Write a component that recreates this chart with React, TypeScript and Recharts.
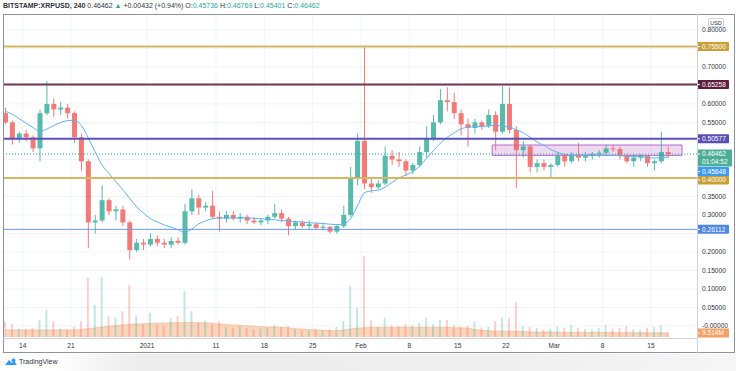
import React from 'react';
import {
  ComposedChart,
  Bar,
  Line,
  Area,
  XAxis,
  YAxis,
  CartesianGrid,
  ReferenceLine,
  ReferenceArea,
  Cell,
} from 'recharts';

// one candle per day, day number counted from 1 Dec 2020 (Dec 11 .. Mar 17)
const days = [
  10, 11, 12, 13, 14, 15, 16, 17, 18, 19, 20, 21, 22, 23, 24, 25, 26, 27, 28, 29,
  30, 31, 32, 33, 34, 35, 36, 37, 38, 39, 40, 41, 42, 43, 44, 45, 46, 47, 48, 49,
  50, 51, 52, 53, 54, 55, 56, 57, 58, 59, 60, 61, 62, 63, 64, 65, 66, 67, 68, 69,
  70, 71, 72, 73, 74, 75, 76, 77, 78, 79, 80, 81, 82, 83, 84, 85, 86, 87, 88, 89,
  90, 91, 92, 93, 94, 95, 96, 97, 98, 99, 100, 101, 102, 103, 104, 105, 106,
];

const opens = [
  0.575, 0.55, 0.505, 0.52, 0.51, 0.48, 0.575, 0.6, 0.585, 0.59,
  0.575, 0.51, 0.445, 0.28, 0.285, 0.34, 0.31, 0.315, 0.28, 0.205,
  0.225, 0.22, 0.235, 0.225, 0.22, 0.23, 0.225, 0.31, 0.345, 0.32,
  0.325, 0.295, 0.29, 0.3, 0.29, 0.295, 0.285, 0.28, 0.285, 0.295,
  0.305, 0.29, 0.27, 0.28, 0.27, 0.275, 0.265, 0.268, 0.255, 0.27,
  0.3, 0.4, 0.5, 0.385, 0.375, 0.385, 0.46, 0.45, 0.445, 0.42,
  0.435, 0.47, 0.505, 0.55, 0.61, 0.605, 0.575, 0.545, 0.535, 0.55,
  0.54, 0.57, 0.525, 0.6, 0.53, 0.475, 0.485, 0.43, 0.44, 0.43,
  0.435, 0.46, 0.445, 0.46, 0.455, 0.46, 0.465, 0.468, 0.48, 0.478,
  0.46, 0.445, 0.455, 0.46, 0.44, 0.445, 0.47,
];
const highs = [
  0.59, 0.555, 0.525, 0.53, 0.515, 0.585, 0.662, 0.615, 0.605, 0.6,
  0.58, 0.52, 0.45, 0.3, 0.38, 0.345, 0.325, 0.325, 0.285, 0.235,
  0.235, 0.25, 0.245, 0.235, 0.24, 0.24, 0.33, 0.37, 0.355, 0.335,
  0.365, 0.31, 0.31, 0.31, 0.305, 0.3, 0.295, 0.29, 0.3, 0.33,
  0.315, 0.295, 0.285, 0.285, 0.285, 0.28, 0.275, 0.27, 0.275, 0.325,
  0.43, 0.52, 0.756, 0.4, 0.395, 0.485, 0.475, 0.47, 0.45, 0.44,
  0.485, 0.54, 0.57, 0.64, 0.645, 0.63, 0.585, 0.56, 0.56, 0.555,
  0.585, 0.58, 0.649, 0.645, 0.54, 0.5, 0.49, 0.45, 0.45, 0.44,
  0.47, 0.465, 0.47, 0.495, 0.47, 0.47, 0.475, 0.49, 0.49, 0.485,
  0.465, 0.465, 0.465, 0.46, 0.45, 0.525, 0.485,
];
const lows = [
  0.545, 0.49, 0.495, 0.5, 0.47, 0.445, 0.57, 0.565, 0.57, 0.56,
  0.495, 0.42, 0.21, 0.25, 0.28, 0.3, 0.285, 0.27, 0.18, 0.2,
  0.205, 0.215, 0.215, 0.21, 0.21, 0.22, 0.22, 0.3, 0.3, 0.31,
  0.29, 0.255, 0.28, 0.285, 0.28, 0.275, 0.275, 0.272, 0.275, 0.29,
  0.28, 0.245, 0.26, 0.265, 0.262, 0.26, 0.258, 0.25, 0.25, 0.265,
  0.295, 0.38, 0.37, 0.36, 0.37, 0.38, 0.435, 0.43, 0.405, 0.41,
  0.43, 0.455, 0.5, 0.545, 0.58, 0.56, 0.515, 0.485, 0.52, 0.53,
  0.535, 0.475, 0.52, 0.52, 0.373, 0.455, 0.415, 0.415, 0.42, 0.4,
  0.43, 0.43, 0.44, 0.445, 0.445, 0.45, 0.455, 0.46, 0.47, 0.45,
  0.44, 0.43, 0.445, 0.43, 0.42, 0.44, 0.454,
];
const closes = [
  0.55, 0.505, 0.52, 0.51, 0.48, 0.575, 0.6, 0.585, 0.59, 0.575,
  0.51, 0.445, 0.28, 0.285, 0.34, 0.31, 0.315, 0.28, 0.205, 0.225,
  0.22, 0.235, 0.225, 0.22, 0.23, 0.225, 0.31, 0.345, 0.32, 0.325,
  0.295, 0.29, 0.3, 0.29, 0.295, 0.285, 0.28, 0.285, 0.295, 0.305,
  0.29, 0.27, 0.28, 0.27, 0.275, 0.265, 0.268, 0.255, 0.27, 0.3,
  0.4, 0.5, 0.385, 0.375, 0.385, 0.46, 0.45, 0.445, 0.42, 0.435,
  0.47, 0.505, 0.55, 0.61, 0.605, 0.575, 0.545, 0.535, 0.55, 0.54,
  0.57, 0.525, 0.6, 0.53, 0.475, 0.485, 0.43, 0.44, 0.43, 0.435,
  0.46, 0.445, 0.46, 0.455, 0.46, 0.465, 0.468, 0.48, 0.478, 0.46,
  0.445, 0.455, 0.46, 0.44, 0.445, 0.47, 0.46462,
];
// volume in millions of XRP
const volumes = [
  38, 31, 20, 18, 22, 41, 65, 38, 20, 18,
  24, 38, 142, 77, 144, 50, 46, 62, 125, 50,
  30, 58, 29, 26, 46, 50, 110, 62, 34, 38,
  30, 38, 24, 22, 26, 22, 18, 20, 22, 29,
  24, 26, 20, 17, 16, 19, 17, 18, 24, 38,
  122, 70, 194, 41, 24, 46, 28, 26, 30, 29,
  34, 46, 31, 41, 41, 29, 24, 26, 38, 22,
  24, 38, 46, 46, 84, 26, 24, 22, 17, 19,
  24, 22, 29, 22, 19, 17, 22, 29, 19, 22,
  26, 19, 17, 22, 24, 29, 9.514,
];
const volumeMa = [
  17, 17, 17, 17, 17, 17, 17, 17, 17, 17,
  17, 18, 20, 22, 24, 26, 27, 29, 30, 31,
  32, 32, 33, 33, 34, 34, 35, 35, 34, 34,
  33, 31, 30, 29, 28, 27, 26, 25, 24, 24,
  23, 22, 20, 19, 18, 17, 16, 15, 15, 17,
  19, 21, 22, 23, 23, 23, 23, 23, 23, 23,
  23, 23, 23, 23, 23, 22, 22, 21, 18, 16,
  15, 14, 14, 14, 13, 13, 12, 12, 12, 12,
  11, 11, 11, 11, 11, 11, 11, 11, 11, 10,
  10, 10, 10, 10, 10, 10, 10,
];
const priceMa = [
  0.58, 0.572, 0.56, 0.548, 0.536, 0.526, 0.532, 0.542, 0.55, 0.555,
  0.556, 0.542, 0.508, 0.47, 0.435, 0.412, 0.39, 0.368, 0.345, 0.322,
  0.305, 0.29, 0.281, 0.273, 0.267, 0.26, 0.253, 0.262, 0.276, 0.284,
  0.29, 0.292, 0.292, 0.292, 0.292, 0.292, 0.291, 0.29, 0.288, 0.287,
  0.285, 0.284, 0.282, 0.281, 0.279, 0.278, 0.277, 0.275, 0.274, 0.276,
  0.29, 0.325, 0.36, 0.365, 0.367, 0.375, 0.388, 0.4, 0.408, 0.417,
  0.432, 0.453, 0.474, 0.494, 0.51, 0.522, 0.533, 0.537, 0.539, 0.539,
  0.541, 0.542, 0.54, 0.538, 0.53, 0.522, 0.51, 0.497, 0.488, 0.477,
  0.469, 0.464, 0.462, 0.462, 0.462, 0.462, 0.462, 0.461, 0.461, 0.46,
  0.459, 0.458, 0.457, 0.455, 0.454, 0.455, 0.45648,
];

const xTicks = [13, 20, 31, 41, 48, 55, 62, 69, 76, 83, 90, 97, 104];
const xTickLabels = ['14', '21', '2021', '11', '18', '25', 'Feb', '8', '15', '22', 'Mar', '8', '15'];
const priceTicks = [0, 0.05, 0.1, 0.15, 0.2, 0.3, 0.35, 0.55, 0.6, 0.7, 0.8];
const priceGrid = [0, 0.05, 0.1, 0.15, 0.2, 0.25, 0.3, 0.35, 0.4, 0.45, 0.5, 0.55, 0.6, 0.65, 0.7, 0.75, 0.8];

const levels = [
  { y: 0.755, text: '0.75500', line: '#d6b863', tag: '#c9a03a', width: 2 },
  { y: 0.65258, text: '0.65258', line: '#6e3a53', tag: '#5e1f3c', width: 2 },
  { y: 0.50577, text: '0.50577', line: '#5d50b8', tag: '#5b4fb3', width: 2 },
  { y: 0.4, text: '0.40000', line: '#d6b863', tag: '#c99f35', width: 2 },
  { y: 0.26112, text: '0.26112', line: '#6a98e6', tag: '#4d86e6', width: 1 },
];

const lastPrice = 0.46462;
const lastMa = 0.45648;
const lastVolume = 9.514;
const zone = { from: 81, to: 108.5, low: 0.461, high: 0.489 };

const X_DOMAIN: [number, number] = [10.147, 110.67];
const PRICE_DOMAIN: [number, number] = [-0.0297, 0.843];
const VOL_DOMAIN: [number, number] = [0, 775];

const FONT = '"Liberation Sans", Arial, sans-serif';
const UP = '#3aae9c';
const DOWN = '#ef6461';
const TEXT = '#2f333e';

const data = days.map((d, i) => ({
  t: d + 0.5,
  o: opens[i],
  h: highs[i],
  l: lows[i],
  c: closes[i],
  v: volumes[i],
  vma: volumeMa[i],
  ma: priceMa[i],
}));

function Candle(props: any) {
  const { x, y, width, height, payload } = props;
  if (x == null || y == null) return null;
  const top = Math.min(y, y + height);
  const span = Math.abs(height);
  const k = payload.h === payload.l ? 0 : span / (payload.h - payload.l);
  const yO = top + (payload.h - payload.o) * k;
  const yC = top + (payload.h - payload.c) * k;
  const color = payload.c >= payload.o ? UP : DOWN;
  const cx = x + width / 2;
  return (
    <g opacity={0.85}>
      <line x1={cx} x2={cx} y1={top} y2={top + span} stroke={color} strokeWidth={1} />
      <rect x={x} y={Math.min(yO, yC)} width={width} height={Math.max(1, Math.abs(yC - yO))} fill={color} />
    </g>
  );
}

function tag(text: string, bg: string, dy = 0, sub?: string, w = 32) {
  return (props: any) => {
    const vb = props.viewBox || {};
    const x = (vb.x ?? 0) + (vb.width ?? 0);
    const y = (vb.y ?? 0) + dy;
    const h = sub ? 17 : 9;
    return (
      <g>
        <rect x={x} y={y - 4.5} width={w} height={h} fill={bg} rx={1} />
        <line x1={x} x2={x + 3} y1={y} y2={y} stroke="#fff" strokeWidth={1} />
        <text x={x + 5} y={y} dy="0.35em" fontSize={6.6} fill="#fff" fontFamily={FONT}>
          {text}
        </text>
        {sub && (
          <text x={x + 5} y={y + 8} dy="0.35em" fontSize={6.6} fill="#fff" fontFamily={FONT}>
            {sub}
          </text>
        )}
      </g>
    );
  };
}

const teal = { color: '#26a69a' };

export default function App() {
  return (
    <div style={{ position: 'absolute', left: 0, top: 0, width: 736, height: 371, background: '#fff', fontFamily: FONT, overflow: 'hidden' }}>
      <ComposedChart width={736} height={371} data={data} margin={{ top: 14, right: 0, left: 3, bottom: 18 }}>
        <CartesianGrid stroke="#f0f3fa" horizontalValues={priceGrid} verticalValues={xTicks} />
        <XAxis
          dataKey="t"
          type="number"
          domain={X_DOMAIN}
          allowDataOverflow
          ticks={xTicks}
          interval={0}
          height={16}
          tickLine={false}
          axisLine={false}
          tickSize={0}
          tickMargin={6}
          tickFormatter={(v: number) => xTickLabels[xTicks.indexOf(v)] ?? ''}
          tick={{ fontSize: 6.6, fill: TEXT, fontFamily: FONT }}
        />
        <XAxis xAxisId="vx" dataKey="t" type="number" domain={X_DOMAIN} allowDataOverflow hide />
        <YAxis
          orientation="right"
          width={39}
          domain={PRICE_DOMAIN}
          allowDataOverflow
          ticks={priceTicks}
          interval={0}
          tickLine={false}
          axisLine={false}
          tickSize={0}
          tickMargin={5}
          tickFormatter={(v: number) => (v === 0 ? '-0.00000' : v.toFixed(5))}
          tick={{ fontSize: 6.6, fill: TEXT, fontFamily: FONT, textAnchor: 'start' }}
        />
        <YAxis yAxisId="vol" domain={VOL_DOMAIN} allowDataOverflow hide />

        <Bar dataKey="v" xAxisId="vx" yAxisId="vol" barSize={2} isAnimationActive={false}>
          {data.map((d, i) => (
            <Cell key={i} fill={d.c >= d.o ? UP : DOWN} fillOpacity={0.3} />
          ))}
        </Bar>
        <Area
          dataKey="vma"
          xAxisId="vx"
          yAxisId="vol"
          type="monotone"
          stroke="#f3a46f"
          strokeWidth={0.5}
          fill="#f7a56b"
          fillOpacity={0.45}
          isAnimationActive={false}
        />

        <ReferenceArea
          x1={zone.from}
          x2={zone.to}
          y1={zone.low}
          y2={zone.high}
          fill="#ba68c8"
          fillOpacity={0.25}
          stroke="#b36bd0"
          strokeWidth={1}
          ifOverflow="visible"
        />

        <Bar dataKey={(d: any) => [d.l, d.h]} barSize={5} shape={Candle} isAnimationActive={false} />
        <Line dataKey="ma" type="monotone" stroke="#64b0f0" strokeWidth={1} dot={false} isAnimationActive={false} />

        {levels.map((lv) => (
          <ReferenceLine
            key={lv.text}
            y={lv.y}
            stroke={lv.line}
            strokeWidth={lv.width}
            label={tag(lv.text, lv.tag, lv.y === 0.4 ? 2 : 0)}
          />
        ))}
        <ReferenceLine
          y={lastPrice}
          stroke="#26a69a"
          strokeDasharray="1 2"
          strokeWidth={1}
          label={tag('0.46462', '#4cae97', 0, '01:04:52', 35)}
        />
        <ReferenceLine y={lastMa} stroke="none" strokeOpacity={0} label={tag('0.45648', '#3d9af2', 14.5)} />
        <ReferenceLine yAxisId="vol" y={lastVolume} stroke="none" strokeOpacity={0} label={tag('9.514M', '#f5a064')} />
      </ComposedChart>

      {/* header */}
      <div style={{ position: 'absolute', left: 3, top: 2, fontSize: 7, color: TEXT, whiteSpace: 'nowrap' }}>
        <b>BITSTAMP:XRPUSD, 240</b> 0.46462 <span style={teal}>▲</span> +0.00432 (+0.94%) O:<span style={teal}>0.45736</span>{' '}
        H:<span style={teal}>0.46769</span> L:<span style={teal}>0.45401</span> C:<span style={teal}>0.46462</span>
      </div>

      {/* frame */}
      <div style={{ position: 'absolute', left: 3, top: 14, width: 732, height: 339, border: '1px solid #8f929b', boxSizing: 'border-box' }} />
      <div style={{ position: 'absolute', left: 697, top: 14, width: 1, height: 339, background: '#d1d4dc' }} />
      <div style={{ position: 'absolute', left: 3, top: 338, width: 694, height: 1, background: '#d1d4dc' }} />

      {/* currency box */}
      <div
        style={{
          position: 'absolute',
          left: 708,
          top: 18,
          width: 16,
          height: 9,
          background: '#fff',
          border: '1px solid #d1d4dc',
          borderRadius: 2,
          fontSize: 5.5,
          lineHeight: '9px',
          textAlign: 'center',
          color: TEXT,
          boxSizing: 'border-box',
        }}
      >
        USD
      </div>

      {/* footer */}
      <div
        style={{
          position: 'absolute',
          left: 0,
          top: 354,
          width: 736,
          height: 17,
          background: 'linear-gradient(to right, #ffffff 0px, #ffffff 50px, #ececec 140px, #efefef 500px, #f6f6f6 736px)',
        }}
      />
      <svg style={{ position: 'absolute', left: 4, top: 357 }} width={14} height={10}>
        <path d="M1 8 L5 3 L8 6 L10 4 L13 8 Z" fill="#2d9cf0" />
        <circle cx={9.5} cy={3.5} r={2} fill="#2d9cf0" />
      </svg>
      <div style={{ position: 'absolute', left: 19, top: 358, fontSize: 7, color: TEXT }}>TradingView</div>
    </div>
  );
}
